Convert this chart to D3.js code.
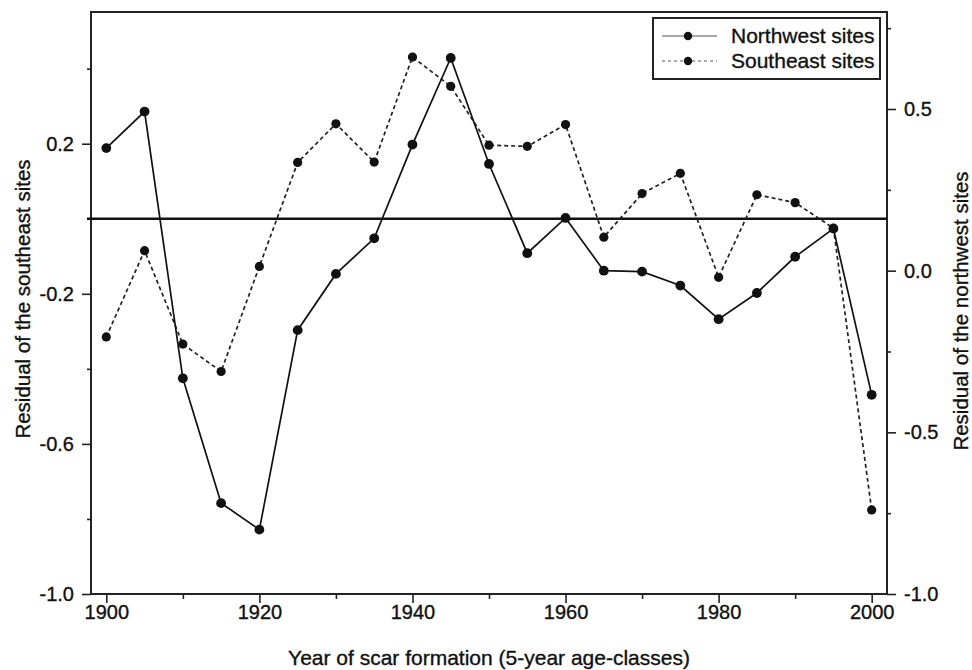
<!DOCTYPE html>
<html>
<head>
<meta charset="utf-8">
<script src="https://cdn.jsdelivr.net/npm/d3@7"></script>
<style>
  body { margin: 0; background: #fff; }
  text { font-family: "Liberation Sans", Arial, sans-serif; fill: #111; stroke: #111; stroke-width: 0.35px; }
</style>
</head>
<body>
<svg width="972" height="670"></svg>
<script>
// values
const years = [1900, 1905, 1910, 1915, 1920, 1925, 1930, 1935, 1940, 1945, 1950,
               1955, 1960, 1965, 1970, 1975, 1980, 1985, 1990, 1995, 2000];
// right axis
const northwest = [0.379, 0.492, -0.333, -0.719, -0.801, -0.184, -0.010, 0.100, 0.390, 0.658, 0.330,
                   0.054, 0.163, 0.000, -0.003, -0.046, -0.150, -0.069, 0.043, 0.130, -0.384];
// left axis
const southeast = [-0.315, -0.085, -0.334, -0.407, -0.127, 0.150, 0.253, 0.151, 0.431, 0.353, 0.196,
                   0.193, 0.251, -0.049, 0.067, 0.121, -0.156, 0.064, 0.043, -0.025, -0.776];

const xMajor = [1900, 1920, 1940, 1960, 1980, 2000];
const xMinor = [1910, 1930, 1950, 1970, 1990];
const leftMajor = [0.2, -0.2, -0.6, -1.0];
const leftMinor = [0.4, 0.0, -0.4, -0.8];
const rightMajor = [0.5, 0.0, -0.5, -1.0];
const rightMinor = [0.75, 0.25, -0.25, -0.75];

const svg = d3.select('svg');
const plot = {left: 91, right: 887, top: 12, bottom: 594};

const x = d3.scaleLinear().domain([1898, 2002]).range([plot.left, plot.right]);
const yL = d3.scaleLinear().domain([-1.0, 0.551]).range([plot.bottom, plot.top]);
const yR = d3.scaleLinear().domain([-1.0, 0.8]).range([plot.bottom, plot.top]);

const fmt = d3.format('.1f');
const styleAxis = g => {
  g.select('.domain').remove();
  g.selectAll('line').attr('stroke', '#222').attr('stroke-width', 1.6);
  g.selectAll('text').style('font-size', '20px').attr('fill', '#111')
    .text(function () { return this.textContent.replace('−', '-'); });
};

// x axis
svg.append('g').attr('transform', `translate(0,${plot.bottom})`)
  .call(d3.axisBottom(x).tickValues(xMajor).tickSize(9).tickPadding(2).tickFormat(d3.format('d')))
  .call(styleAxis);
svg.append('g').attr('transform', `translate(0,${plot.bottom})`)
  .call(d3.axisBottom(x).tickValues(xMinor).tickSize(5).tickFormat(''))
  .call(styleAxis);

// left axis
svg.append('g').attr('transform', `translate(${plot.left},0)`)
  .call(d3.axisLeft(yL).tickValues(leftMajor).tickSize(9).tickPadding(8).tickFormat(fmt))
  .call(styleAxis);
svg.append('g').attr('transform', `translate(${plot.left},0)`)
  .call(d3.axisLeft(yL).tickValues(leftMinor).tickSize(4).tickFormat(''))
  .call(styleAxis);

// right axis
svg.append('g').attr('transform', `translate(${plot.right},0)`)
  .call(d3.axisRight(yR).tickValues(rightMajor).tickSize(9).tickPadding(8).tickFormat(fmt))
  .call(styleAxis);
svg.append('g').attr('transform', `translate(${plot.right},0)`)
  .call(d3.axisRight(yR).tickValues(rightMinor).tickSize(4).tickFormat(''))
  .call(styleAxis);

// frame
svg.append('rect')
  .attr('x', plot.left).attr('y', plot.top)
  .attr('width', plot.right - plot.left).attr('height', plot.bottom - plot.top)
  .attr('fill', 'none').attr('stroke', '#222').attr('stroke-width', 2);

// zero line
svg.append('line')
  .attr('x1', plot.left - 4).attr('x2', plot.right)
  .attr('y1', yL(0)).attr('y2', yL(0))
  .attr('stroke', '#111').attr('stroke-width', 2.6);

const nwData = years.map((yr, i) => ({year: yr, v: northwest[i]}));
const seData = years.map((yr, i) => ({year: yr, v: southeast[i]}));

const lineNW = d3.line().x(d => x(d.year)).y(d => yR(d.v));
const lineSE = d3.line().x(d => x(d.year)).y(d => yL(d.v));

svg.append('path').datum(seData)
  .attr('d', lineSE).attr('fill', 'none')
  .attr('stroke', '#222').attr('stroke-width', 1.7).attr('stroke-dasharray', '4,3');
svg.append('path').datum(nwData)
  .attr('d', lineNW).attr('fill', 'none')
  .attr('stroke', '#111').attr('stroke-width', 1.7);

svg.append('g').selectAll('circle').data(seData).join('circle')
  .attr('cx', d => x(d.year)).attr('cy', d => yL(d.v)).attr('r', 4.6).attr('fill', '#111');
svg.append('g').selectAll('circle').data(nwData).join('circle')
  .attr('cx', d => x(d.year)).attr('cy', d => yR(d.v)).attr('r', 4.9).attr('fill', '#111');

// axis titles
svg.append('text')
  .attr('x', (plot.left + plot.right) / 2).attr('y', 665)
  .attr('text-anchor', 'middle').style('font-size', '21px')
  .text('Year of scar formation (5-year age-classes)');
svg.append('text')
  .attr('transform', `translate(30,${(plot.top + plot.bottom) / 2 - 4}) rotate(-90)`)
  .attr('text-anchor', 'middle').style('font-size', '20.5px')
  .text('Residual of the southeast sites');
svg.append('text')
  .attr('transform', `translate(968,${(plot.top + plot.bottom) / 2 + 8}) rotate(-90)`)
  .attr('text-anchor', 'middle').style('font-size', '20.5px')
  .text('Residual of the northwest sites');

// legend
const legend = svg.append('g');
legend.append('rect')
  .attr('x', 653).attr('y', 18).attr('width', 227).attr('height', 61)
  .attr('fill', '#fff').attr('stroke', '#222').attr('stroke-width', 2);
const legendItems = [
  {label: 'Northwest sites', dash: null, y: 36},
  {label: 'Southeast sites', dash: '3,3', y: 61}
];
legendItems.forEach(it => {
  legend.append('line')
    .attr('x1', 662).attr('x2', 717).attr('y1', it.y).attr('y2', it.y)
    .attr('stroke', '#555').attr('stroke-width', 1.2)
    .attr('stroke-dasharray', it.dash);
  legend.append('circle').attr('cx', 688).attr('cy', it.y).attr('r', 4.2).attr('fill', '#111');
  legend.append('text').attr('x', 731).attr('y', it.y + 7)
    .style('font-size', '21px').text(it.label);
});
</script>
</body>
</html>
